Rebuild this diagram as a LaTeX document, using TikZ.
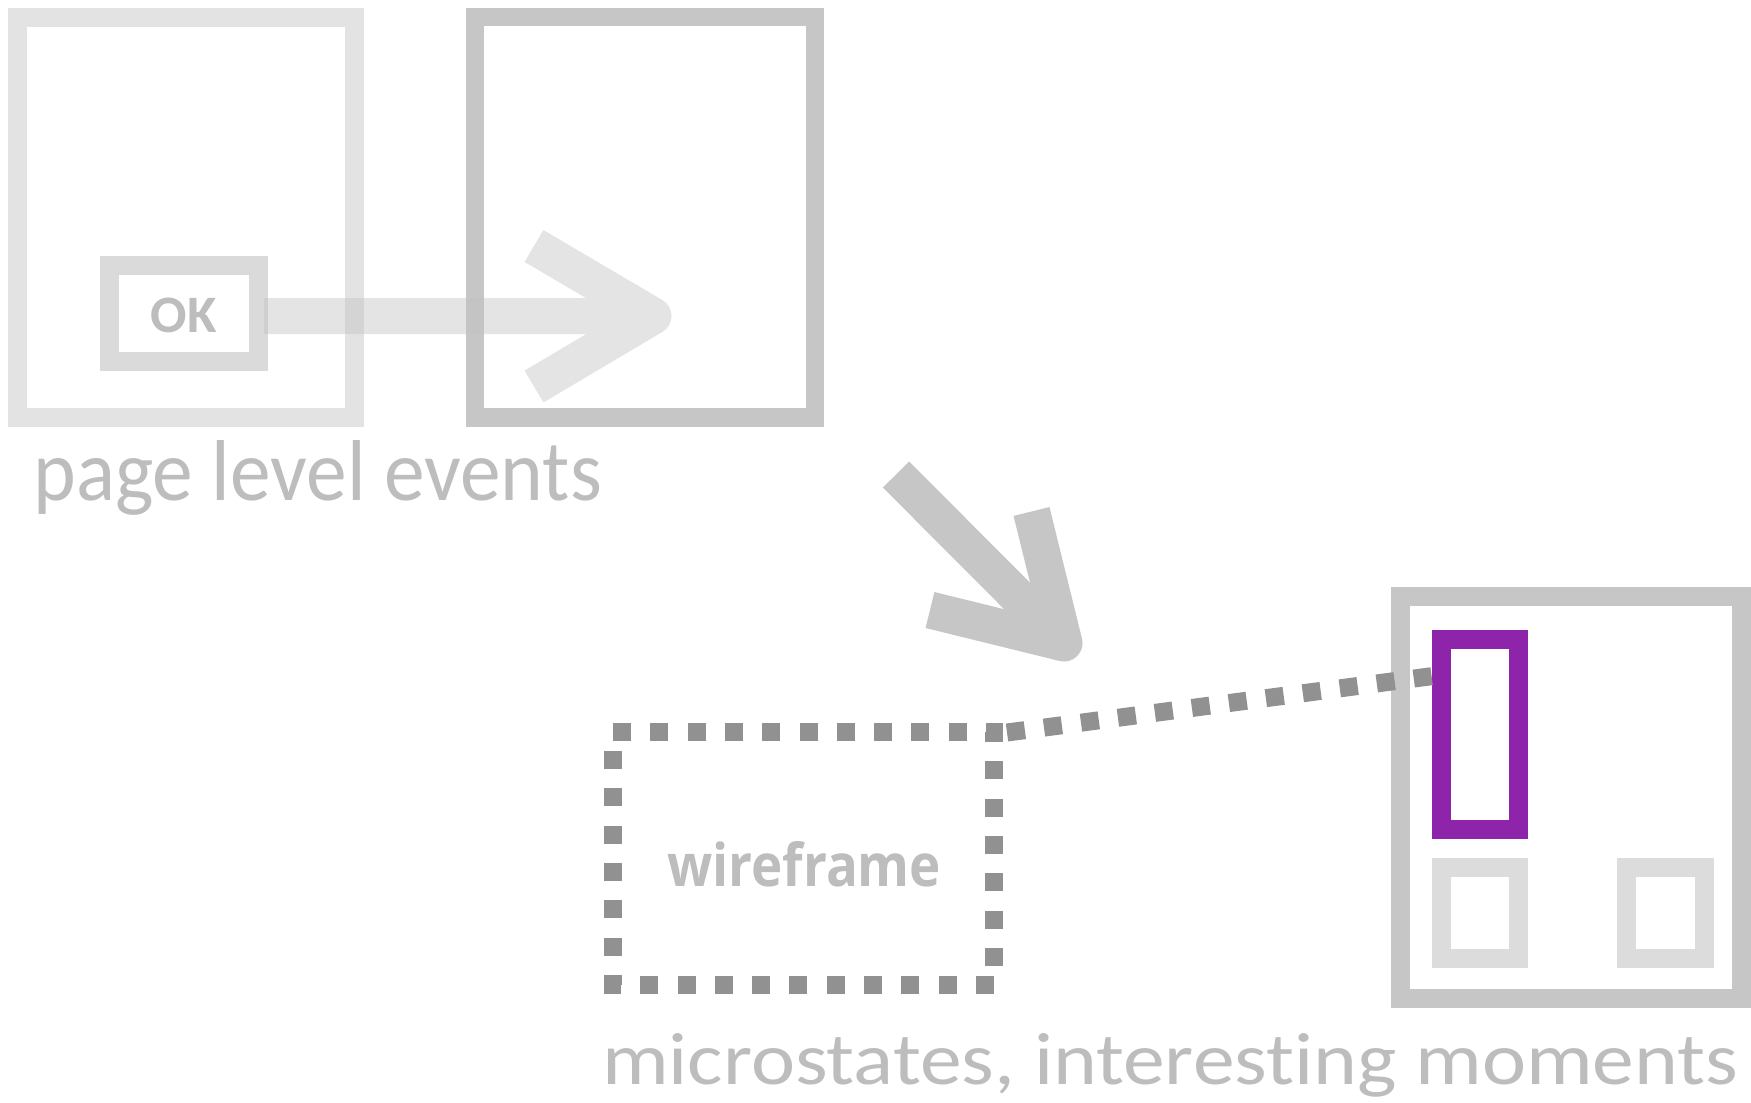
\documentclass[tikz,border=0pt]{standalone}
\usepackage{fontspec}
\usepackage{graphicx}
\usetikzlibrary{calc}
\setmainfont{Carlito}[Ligatures={NoCommon,NoRare,NoContextual}]
\newfontfamily\wfont{Open Sans}[Ligatures={NoCommon,NoRare,NoContextual}]
\definecolor{boxlight}{HTML}{E3E3E3}
\definecolor{boxmid}{HTML}{C6C6C6}
\definecolor{okgray}{HTML}{DADADA}
\definecolor{txtgray}{HTML}{BDBDBD}
\definecolor{arrowgray}{HTML}{C2C2C2}
\definecolor{dotgray}{HTML}{919191}
\definecolor{purp}{HTML}{8E24AA}
\definecolor{smallgray}{HTML}{DCDCDC}
\tikzset{
  framebox/.style={draw=#1, line width=19pt, inner sep=0pt, outer sep=0pt, rectangle},
  dotline/.style={draw=dotgray, line width=17.5pt, dash pattern=on 18pt off 19.3pt, line join=miter},
  fatarrow/.style={line width=37pt, line join=round, line cap=butt},
  lbl/.style={text=txtgray, inner sep=0pt, outer sep=0pt, anchor=base west},
}
\begin{document}
\begin{tikzpicture}[x=1pt,y=-1pt]
\useasboundingbox[fill=white] (0,0) rectangle (1751,1103);
% page level boxes
\node[framebox=boxlight, minimum width=337.2pt, minimum height=399.7pt] (page1) at (185.9,217.2) {};
\node[framebox=boxmid, line width=18.5pt, minimum width=339.8pt, minimum height=400.3pt] (page2) at (644.9,217.2) {};
\node[framebox=okgray, line width=18.8pt, minimum width=148.5pt, minimum height=96.2pt] (okbtn) at (184.05,313.6) {};
\node[text=txtgray, inner sep=0pt] (oktxt) at (184,315.5) {\resizebox{66pt}{34.5pt}{\bfseries OK}};
% horizontal arrow
\coordinate (h0) at (264,316);
\coordinate (hv) at (653,316);
\coordinate (ha) at (534,246);
\coordinate (hb) at (534,386.5);
\begin{scope}[transparency group, opacity=0.43]
\draw[fatarrow, draw=arrowgray, line width=36pt] (h0) -- (hv);
\draw[fatarrow, draw=arrowgray] (ha) -- (hv) -- (hb);
\end{scope}
\node[lbl] (pagelbl) at (33.6,500.7) {\resizebox{568pt}{60pt}{page level events}};
% diagonal arrow
\coordinate (d0) at (896,474.5);
\coordinate (dv) at (1064,643);
\coordinate (da) at (1031.5,511.5);
\coordinate (db) at (930,610);
\draw[fatarrow, draw=boxmid] (d0) -- (dv);
\draw[fatarrow, draw=boxmid] (da) -- (dv) -- (db);
% wireframe
\node[inner sep=0pt, outer sep=0pt, minimum width=381pt, minimum height=253pt] (wf) at (803.5,858.5) {};
\draw[dotline] (wf.north west) -- (wf.north east) -- (wf.south east) -- (wf.south west) -- ($(wf.north west)+(0,12)$);
\node[lbl] (wftxt) at (667,886) {\resizebox{274pt}{45pt}{\wfont\bfseries wireframe}};
% right screen
\node[framebox=boxmid, minimum width=340.3pt, minimum height=402pt] (screen) at (1570.85,797) {};
\node[framebox=purp, minimum width=77.5pt, minimum height=190.7pt] (pr) at (1479.75,734.35) {};
\node[framebox=smallgray, minimum width=77.5pt, minimum height=90.6pt] (sq1) at (1479.75,912.7) {};
\node[framebox=smallgray, minimum width=77.5pt, minimum height=90.6pt] (sq2) at (1665.25,912.7) {};
% connector
\coordinate (c1) at (1007,732.5);
\coordinate (c2) at (1433,676);
\draw[dotline, line width=18pt] (c1) -- (c2);
\node[lbl] (microlbl) at (602,1084) {\resizebox{1136pt}{51pt}{microstates, interesting moments}};
\end{tikzpicture}
\end{document}
